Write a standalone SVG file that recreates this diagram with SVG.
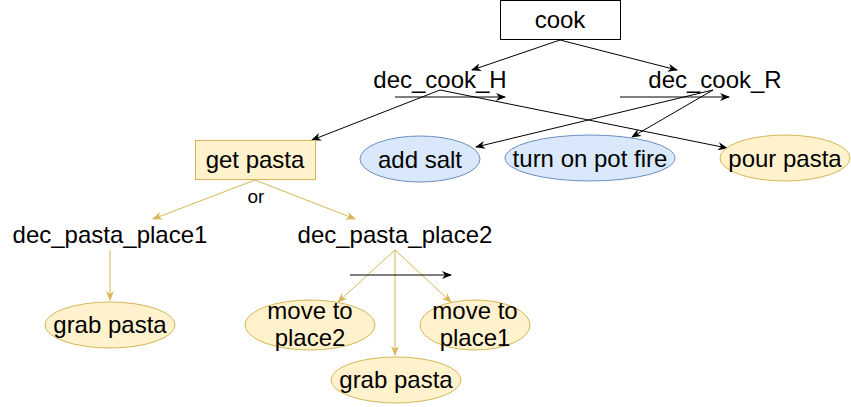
<svg xmlns="http://www.w3.org/2000/svg" width="851" height="407" viewBox="0 0 851 407">
<defs>
<style>
text{font-family:"Liberation Sans",Arial,sans-serif;font-size:24px;fill:#000;text-anchor:middle}
.blk{stroke:#000;stroke-width:1;fill:none}
.yel{stroke:#d6b656;stroke-width:1;fill:none}
.ynode{fill:#fff2cc;stroke:#d6b656;stroke-width:1}
.bnode{fill:#dae8fc;stroke:#6c8ebf;stroke-width:1}
</style>
<marker id="ab" viewBox="0 0 10 8" refX="9" refY="4" markerWidth="10" markerHeight="8" markerUnits="userSpaceOnUse" orient="auto"><path d="M0,0 L10,4 L0,8 L3,4 Z" fill="#000"/></marker>
<marker id="ay" viewBox="0 0 10 8" refX="9" refY="4" markerWidth="10" markerHeight="8" markerUnits="userSpaceOnUse" orient="auto"><path d="M0,0 L10,4 L0,8 L3,4 Z" fill="#d6b656"/></marker>
</defs>
<rect width="851" height="407" fill="#fff"/>
<g id="connectors">
<line class="blk" x1="560" y1="40" x2="472" y2="70" marker-end="url(#ab)"/>
<line class="blk" x1="560" y1="40" x2="677" y2="70" marker-end="url(#ab)"/>
<line class="blk" x1="395" y1="97" x2="505" y2="97" marker-end="url(#ab)"/>
<line class="blk" x1="620" y1="97" x2="729" y2="97" marker-end="url(#ab)"/>
<line class="blk" x1="440" y1="90" x2="312" y2="140" marker-end="url(#ab)"/>
<line class="blk" x1="440" y1="90" x2="727" y2="148" marker-end="url(#ab)"/>
<line class="blk" x1="713" y1="90" x2="476" y2="147" marker-end="url(#ab)"/>
<line class="blk" x1="713" y1="90" x2="632" y2="137" marker-end="url(#ab)"/>
<line class="yel" x1="255" y1="180" x2="153" y2="219" marker-end="url(#ay)"/>
<line class="yel" x1="255" y1="180" x2="355" y2="219" marker-end="url(#ay)"/>
<line class="yel" x1="110" y1="250" x2="110" y2="300" marker-end="url(#ay)"/>
<line class="yel" x1="395" y1="250" x2="338" y2="302" marker-end="url(#ay)"/>
<line class="yel" x1="395" y1="250" x2="395" y2="355" marker-end="url(#ay)"/>
<line class="yel" x1="395" y1="250" x2="451" y2="302" marker-end="url(#ay)"/>
<line class="blk" x1="350" y1="275" x2="451" y2="275" marker-end="url(#ab)"/>
<text x="256" y="203" style="font-size:19px">or</text>
</g>
<g id="cook"><rect x="500.5" y="0.5" width="120" height="39" fill="#fff" stroke="#000"/><text x="560" y="28">cook</text></g>
<g id="dec_cook_H"><text x="440" y="88">dec_cook_H</text></g>
<g id="dec_cook_R"><text x="715" y="88">dec_cook_R</text></g>
<g id="get_pasta"><rect class="ynode" x="195.5" y="140.5" width="120" height="39"/><text x="255" y="168">get pasta</text></g>
<g id="add_salt"><ellipse class="bnode" cx="420" cy="159" rx="60" ry="23"/><text x="420" y="168">add salt</text></g>
<g id="turn_on_pot_fire"><ellipse class="bnode" cx="590" cy="158" rx="85" ry="23"/><text x="590" y="167">turn on pot fire</text></g>
<g id="pour_pasta"><ellipse class="ynode" cx="785" cy="158" rx="65" ry="23"/><text x="785" y="167">pour pasta</text></g>
<g id="dec_pasta_place1"><text x="110" y="243">dec_pasta_place1</text></g>
<g id="dec_pasta_place2"><text x="395" y="243">dec_pasta_place2</text></g>
<g id="grab_pasta_1"><ellipse class="ynode" cx="110" cy="325" rx="65" ry="23"/><text x="110" y="333">grab pasta</text></g>
<g id="move_to_place2"><ellipse class="ynode" cx="310" cy="325" rx="65" ry="25"/><text x="310" y="319">move to</text><text x="310" y="346">place2</text></g>
<g id="move_to_place1"><ellipse class="ynode" cx="475" cy="325" rx="55" ry="25"/><text x="475" y="319">move to</text><text x="475" y="346">place1</text></g>
<g id="grab_pasta_2"><ellipse class="ynode" cx="396" cy="380" rx="65" ry="23"/><text x="396" y="388">grab pasta</text></g>
</svg>
